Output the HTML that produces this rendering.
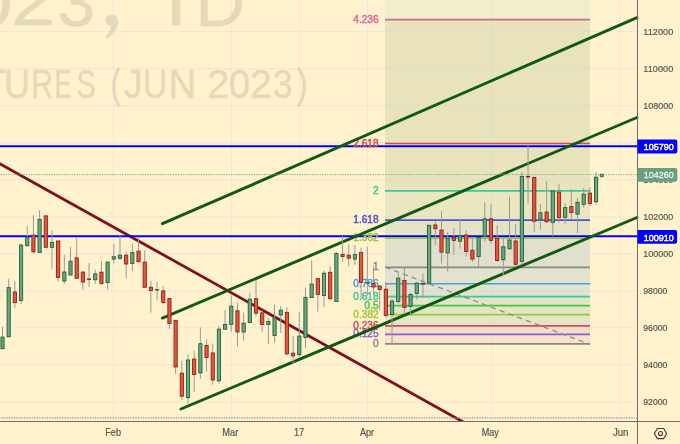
<!DOCTYPE html>
<html><head><meta charset="utf-8"><style>
html,body{margin:0;padding:0;background:#FFF2CC;}
body{width:680px;height:444px;overflow:hidden;font-family:"Liberation Sans",sans-serif;}
svg{display:block;will-change:transform}
</style></head><body>
<svg width="680" height="444" viewBox="0 0 680 444">
<defs><clipPath id="pane"><rect x="0" y="0" width="637" height="421"/></clipPath></defs>
<rect width="680" height="444" fill="#FFF2CC"/>
<text transform="translate(-30.59,25.60) scale(1.135,1.0)" font-size="68" fill="#E3DAB8" font-family="Liberation Sans, sans-serif" stroke="#E3DAB8" stroke-width="0.4">0</text>
<text transform="translate(11.03,25.30) scale(1.169,1.0)" font-size="68" fill="#E3DAB8" font-family="Liberation Sans, sans-serif" stroke="#E3DAB8" stroke-width="0.4">2</text>
<text transform="translate(57.12,26.00) scale(1.016,1.0)" font-size="68" fill="#E3DAB8" font-family="Liberation Sans, sans-serif" stroke="#E3DAB8" stroke-width="0.4">3</text>
<path d="M111.5 14.8 C115.5 14.5 118.5 17.5 118.3 22 C118 28 113 34 107.5 39 L105.3 37 C108.5 33.5 110.5 30.5 111.3 26.5 C107.5 26 105.5 23.5 105.5 20.5 C105.5 17.2 108 14.9 111.5 14.8 Z" fill="#E3DAB8"/>
<rect x="172" y="-30" width="8.4" height="55.6" fill="#E3DAB8"/>
<text transform="translate(195.32,25.60) scale(1.018,1.0)" font-size="68" fill="#E3DAB8" font-family="Liberation Sans, sans-serif" stroke="#E3DAB8" stroke-width="0.4">D</text>
<text transform="translate(-18.37,97.60) scale(0.970,1.0)" font-size="41" fill="#E3DAB8" font-family="Liberation Sans, sans-serif" stroke="#E3DAB8" stroke-width="0.5">T</text>
<text transform="translate(4.07,97.60) scale(0.885,1.0)" font-size="41" fill="#E3DAB8" font-family="Liberation Sans, sans-serif" stroke="#E3DAB8" stroke-width="0.5">U</text>
<text transform="translate(31.24,97.60) scale(0.745,1.0)" font-size="41" fill="#E3DAB8" font-family="Liberation Sans, sans-serif" stroke="#E3DAB8" stroke-width="0.5">R</text>
<text transform="translate(54.83,97.60) scale(0.617,1.0)" font-size="41" fill="#E3DAB8" font-family="Liberation Sans, sans-serif" stroke="#E3DAB8" stroke-width="0.5">E</text>
<text transform="translate(76.42,97.60) scale(0.705,1.0)" font-size="41" fill="#E3DAB8" font-family="Liberation Sans, sans-serif" stroke="#E3DAB8" stroke-width="0.5">S</text>
<text transform="translate(110.60,97.60) scale(0.748,1.0)" font-size="41" fill="#E3DAB8" font-family="Liberation Sans, sans-serif" stroke="#E3DAB8" stroke-width="0.5">(</text>
<text transform="translate(123.79,97.60) scale(0.928,1.0)" font-size="41" fill="#E3DAB8" font-family="Liberation Sans, sans-serif" stroke="#E3DAB8" stroke-width="0.5">J</text>
<text transform="translate(142.63,97.60) scale(0.835,1.0)" font-size="41" fill="#E3DAB8" font-family="Liberation Sans, sans-serif" stroke="#E3DAB8" stroke-width="0.5">U</text>
<text transform="translate(168.78,97.60) scale(0.927,1.0)" font-size="41" fill="#E3DAB8" font-family="Liberation Sans, sans-serif" stroke="#E3DAB8" stroke-width="0.5">N</text>
<text transform="translate(206.97,97.60) scale(0.990,1.0)" font-size="41" fill="#E3DAB8" font-family="Liberation Sans, sans-serif" stroke="#E3DAB8" stroke-width="0.5">2</text>
<text transform="translate(229.08,97.60) scale(0.926,1.0)" font-size="41" fill="#E3DAB8" font-family="Liberation Sans, sans-serif" stroke="#E3DAB8" stroke-width="0.5">0</text>
<text transform="translate(249.92,97.60) scale(0.968,1.0)" font-size="41" fill="#E3DAB8" font-family="Liberation Sans, sans-serif" stroke="#E3DAB8" stroke-width="0.5">2</text>
<text transform="translate(273.05,97.60) scale(0.867,1.0)" font-size="41" fill="#E3DAB8" font-family="Liberation Sans, sans-serif" stroke="#E3DAB8" stroke-width="0.5">3</text>
<text transform="translate(296.70,97.60) scale(0.804,1.0)" font-size="41" fill="#E3DAB8" font-family="Liberation Sans, sans-serif" stroke="#E3DAB8" stroke-width="0.5">)</text>
<rect x="385" y="0" width="205" height="19.63420000000002" fill="#F2EEC9"/>
<rect x="385" y="19.63" width="205" height="123.86" fill="#E9E3BC"/>
<rect x="385" y="143.49" width="205" height="47.31" fill="#E9E3BC"/>
<rect x="385" y="190.80" width="205" height="29.24" fill="#EAE6BF"/>
<rect x="385" y="220.04" width="205" height="18.07" fill="#E4E3C6"/>
<rect x="385" y="238.11" width="205" height="29.24" fill="#E2E0CA"/>
<rect x="385" y="267.35" width="205" height="16.38" fill="#E3E2CD"/>
<rect x="385" y="283.73" width="205" height="12.86" fill="#E1E3CB"/>
<rect x="385" y="296.59" width="205" height="9.03" fill="#E3E5C6"/>
<rect x="385" y="305.62" width="205" height="9.03" fill="#E3E6C3"/>
<rect x="385" y="314.66" width="205" height="11.18" fill="#E4E4C6"/>
<rect x="385" y="325.83" width="205" height="8.50" fill="#EEE0C8"/>
<rect x="385" y="334.33" width="205" height="9.57" fill="#F9E3C8"/>
<line x1="0" y1="31.50" x2="637" y2="31.50" stroke="rgba(198,205,255,0.30)" stroke-width="1.2"/>
<line x1="0" y1="68.55" x2="637" y2="68.55" stroke="rgba(198,205,255,0.30)" stroke-width="1.2"/>
<line x1="0" y1="105.60" x2="637" y2="105.60" stroke="rgba(198,205,255,0.30)" stroke-width="1.2"/>
<line x1="0" y1="142.65" x2="637" y2="142.65" stroke="rgba(198,205,255,0.30)" stroke-width="1.2"/>
<line x1="0" y1="179.70" x2="637" y2="179.70" stroke="rgba(198,205,255,0.30)" stroke-width="1.2"/>
<line x1="0" y1="216.75" x2="637" y2="216.75" stroke="rgba(198,205,255,0.30)" stroke-width="1.2"/>
<line x1="0" y1="253.80" x2="637" y2="253.80" stroke="rgba(198,205,255,0.30)" stroke-width="1.2"/>
<line x1="0" y1="290.85" x2="637" y2="290.85" stroke="rgba(198,205,255,0.30)" stroke-width="1.2"/>
<line x1="0" y1="327.90" x2="637" y2="327.90" stroke="rgba(198,205,255,0.30)" stroke-width="1.2"/>
<line x1="0" y1="364.95" x2="637" y2="364.95" stroke="rgba(198,205,255,0.30)" stroke-width="1.2"/>
<line x1="0" y1="402.00" x2="637" y2="402.00" stroke="rgba(198,205,255,0.30)" stroke-width="1.2"/>
<line x1="113.5" y1="0" x2="113.5" y2="421" stroke="rgba(198,205,255,0.30)" stroke-width="1"/>
<line x1="231.5" y1="0" x2="231.5" y2="421" stroke="rgba(198,205,255,0.30)" stroke-width="1"/>
<line x1="299.5" y1="0" x2="299.5" y2="421" stroke="rgba(198,205,255,0.30)" stroke-width="1"/>
<line x1="367.5" y1="0" x2="367.5" y2="421" stroke="rgba(198,205,255,0.30)" stroke-width="1"/>
<line x1="491.5" y1="0" x2="491.5" y2="421" stroke="rgba(198,205,255,0.30)" stroke-width="1"/>
<line x1="620.5" y1="0" x2="620.5" y2="421" stroke="rgba(198,205,255,0.30)" stroke-width="1"/>
<line x1="-2" y1="162.7" x2="470" y2="425.8" stroke="#7C1020" stroke-width="2.8" clip-path="url(#pane)"/>
<line x1="0" y1="146.2" x2="637" y2="146.2" stroke="#0000FF" stroke-width="1.85"/>
<line x1="0" y1="236.2" x2="637" y2="236.2" stroke="#0000FF" stroke-width="1.85"/>
<line x1="385" y1="19.63" x2="590" y2="19.63" stroke="#D765A0" stroke-width="1.7"/>
<text transform="translate(353.31,22.73) scale(0.930,1)" font-size="10.89" fill="#D765A0" font-family="Liberation Sans, sans-serif" stroke="#D765A0" stroke-width="0.45">4.236</text>
<line x1="385" y1="143.49" x2="590" y2="143.49" stroke="#D24A4A" stroke-width="1.7"/>
<text transform="translate(353.31,146.59) scale(0.930,1)" font-size="10.89" fill="#D24A4A" font-family="Liberation Sans, sans-serif" stroke="#D24A4A" stroke-width="0.45">2.618</text>
<line x1="385" y1="190.80" x2="590" y2="190.80" stroke="#3CC894" stroke-width="1.7"/>
<text transform="translate(373.08,193.90) scale(0.930,1)" font-size="10.89" fill="#3CC894" font-family="Liberation Sans, sans-serif" stroke="#3CC894" stroke-width="0.45">2</text>
<line x1="385" y1="220.04" x2="590" y2="220.04" stroke="#5050C8" stroke-width="1.7"/>
<text transform="translate(353.31,223.14) scale(0.930,1)" font-size="10.89" fill="#5050C8" font-family="Liberation Sans, sans-serif" stroke="#5050C8" stroke-width="0.45">1.618</text>
<line x1="385" y1="238.11" x2="590" y2="238.11" stroke="#9CC438" stroke-width="1.7"/>
<text transform="translate(353.37,241.21) scale(0.930,1)" font-size="10.89" fill="#9CC438" font-family="Liberation Sans, sans-serif" stroke="#9CC438" stroke-width="0.45">1.382</text>
<line x1="385" y1="267.35" x2="590" y2="267.35" stroke="#888888" stroke-width="1.7"/>
<text transform="translate(373.06,270.45) scale(0.930,1)" font-size="10.89" fill="#888888" font-family="Liberation Sans, sans-serif" stroke="#888888" stroke-width="0.45">1</text>
<line x1="385" y1="283.73" x2="590" y2="283.73" stroke="#4A9FDE" stroke-width="1.7"/>
<text transform="translate(353.31,286.83) scale(0.930,1)" font-size="10.89" fill="#4A9FDE" font-family="Liberation Sans, sans-serif" stroke="#4A9FDE" stroke-width="0.45">0.786</text>
<line x1="385" y1="296.59" x2="590" y2="296.59" stroke="#3CC79E" stroke-width="1.7"/>
<text transform="translate(353.31,299.69) scale(0.930,1)" font-size="10.89" fill="#3CC79E" font-family="Liberation Sans, sans-serif" stroke="#3CC79E" stroke-width="0.45">0.618</text>
<line x1="385" y1="305.62" x2="590" y2="305.62" stroke="#40C840" stroke-width="1.7"/>
<text transform="translate(364.55,308.73) scale(0.930,1)" font-size="10.89" fill="#40C840" font-family="Liberation Sans, sans-serif" stroke="#40C840" stroke-width="0.45">0.5</text>
<line x1="385" y1="314.66" x2="590" y2="314.66" stroke="#A0C838" stroke-width="1.7"/>
<text transform="translate(353.37,317.76) scale(0.930,1)" font-size="10.89" fill="#A0C838" font-family="Liberation Sans, sans-serif" stroke="#A0C838" stroke-width="0.45">0.382</text>
<line x1="385" y1="325.83" x2="590" y2="325.83" stroke="#DC4A4A" stroke-width="1.7"/>
<text transform="translate(353.31,328.93) scale(0.930,1)" font-size="10.89" fill="#DC4A4A" font-family="Liberation Sans, sans-serif" stroke="#DC4A4A" stroke-width="0.45">0.236</text>
<line x1="385" y1="334.33" x2="590" y2="334.33" stroke="#8C5ED0" stroke-width="1.7"/>
<text transform="translate(353.29,337.43) scale(0.930,1)" font-size="10.89" fill="#8C5ED0" font-family="Liberation Sans, sans-serif" stroke="#8C5ED0" stroke-width="0.45">0.125</text>
<line x1="385" y1="343.90" x2="590" y2="343.90" stroke="#888888" stroke-width="1.7"/>
<text transform="translate(372.95,347.00) scale(0.930,1)" font-size="10.89" fill="#888888" font-family="Liberation Sans, sans-serif" stroke="#888888" stroke-width="0.45">0</text>
<line x1="385.3" y1="267.2" x2="590" y2="344.4" stroke="#8C8C8C" stroke-width="1.3" stroke-dasharray="5.2 4.2"/>
<line x1="162.4" y1="223.7" x2="637" y2="17.6" stroke="#0F5A12" stroke-width="2.9" stroke-linecap="round"/>
<line x1="162.4" y1="318.1" x2="637" y2="117.5" stroke="#0F5A12" stroke-width="2.9" stroke-linecap="round"/>
<line x1="180.9" y1="409" x2="637" y2="217.5" stroke="#0F5A12" stroke-width="2.9" stroke-linecap="round"/>
<line x1="0" y1="174.6" x2="637" y2="174.6" stroke="#6FA886" stroke-width="1" stroke-dasharray="1.2 1.33" stroke-dashoffset="-0.83"/>
<line x1="0" y1="418" x2="637" y2="418" stroke="#9A9A9A" stroke-width="1.4" stroke-dasharray="1.2 1.33" stroke-dashoffset="-1.3"/>
<line x1="2.51" y1="326.8" x2="2.51" y2="348.7" stroke="#999999" stroke-width="1"/>
<rect x="0.91" y="337.10" width="3.2" height="11.60" fill="#6AA881" stroke="#225E3A" stroke-width="0.9"/>
<line x1="8.69" y1="278.8" x2="8.69" y2="336.8" stroke="#999999" stroke-width="1"/>
<rect x="7.09" y="287.60" width="3.2" height="49.20" fill="#6AA881" stroke="#225E3A" stroke-width="0.9"/>
<line x1="14.87" y1="281.0" x2="14.87" y2="307.6" stroke="#999999" stroke-width="1"/>
<rect x="13.27" y="292.00" width="3.2" height="10.60" fill="#E8553F" stroke="#8A2318" stroke-width="0.9"/>
<line x1="21.05" y1="243.4" x2="21.05" y2="304.4" stroke="#999999" stroke-width="1"/>
<rect x="19.45" y="245.10" width="3.2" height="55.30" fill="#6AA881" stroke="#225E3A" stroke-width="0.9"/>
<line x1="27.24" y1="226.1" x2="27.24" y2="246.6" stroke="#999999" stroke-width="1"/>
<rect x="25.64" y="237.30" width="3.2" height="8.40" fill="#6AA881" stroke="#225E3A" stroke-width="0.9"/>
<line x1="33.42" y1="215.2" x2="33.42" y2="253.4" stroke="#999999" stroke-width="1"/>
<rect x="31.82" y="235.10" width="3.2" height="16.70" fill="#E8553F" stroke="#8A2318" stroke-width="0.9"/>
<line x1="39.60" y1="210.2" x2="39.60" y2="252.5" stroke="#999999" stroke-width="1"/>
<rect x="38.00" y="219.40" width="3.2" height="33.00" fill="#6AA881" stroke="#225E3A" stroke-width="0.9"/>
<line x1="45.79" y1="215.9" x2="45.79" y2="247.3" stroke="#999999" stroke-width="1"/>
<rect x="44.19" y="215.90" width="3.2" height="31.40" fill="#E8553F" stroke="#8A2318" stroke-width="0.9"/>
<line x1="51.97" y1="230.4" x2="51.97" y2="268.8" stroke="#999999" stroke-width="1"/>
<rect x="50.37" y="242.40" width="3.2" height="4.90" fill="#6AA881" stroke="#225E3A" stroke-width="0.9"/>
<line x1="58.15" y1="241.0" x2="58.15" y2="281.5" stroke="#999999" stroke-width="1"/>
<rect x="56.55" y="241.00" width="3.2" height="36.40" fill="#E8553F" stroke="#8A2318" stroke-width="0.9"/>
<line x1="64.34" y1="255.0" x2="64.34" y2="283.8" stroke="#999999" stroke-width="1"/>
<rect x="62.74" y="272.00" width="3.2" height="9.00" fill="#6AA881" stroke="#225E3A" stroke-width="0.9"/>
<line x1="70.52" y1="246.8" x2="70.52" y2="275.0" stroke="#999999" stroke-width="1"/>
<rect x="68.92" y="261.20" width="3.2" height="13.80" fill="#6AA881" stroke="#225E3A" stroke-width="0.9"/>
<line x1="76.70" y1="238.0" x2="76.70" y2="279.0" stroke="#999999" stroke-width="1"/>
<rect x="75.10" y="257.90" width="3.2" height="20.40" fill="#E8553F" stroke="#8A2318" stroke-width="0.9"/>
<line x1="82.88" y1="272.0" x2="82.88" y2="289.8" stroke="#999999" stroke-width="1"/>
<rect x="81.28" y="272.00" width="3.2" height="10.00" fill="#E8553F" stroke="#8A2318" stroke-width="0.9"/>
<line x1="89.07" y1="263.1" x2="89.07" y2="287.0" stroke="#999999" stroke-width="1"/>
<rect x="87.02" y="278.55" width="4.1" height="1.40" fill="#8A2318"/>
<line x1="95.25" y1="269.7" x2="95.25" y2="283.8" stroke="#999999" stroke-width="1"/>
<rect x="93.65" y="273.90" width="3.2" height="5.80" fill="#6AA881" stroke="#225E3A" stroke-width="0.9"/>
<line x1="101.43" y1="260.9" x2="101.43" y2="285.0" stroke="#999999" stroke-width="1"/>
<rect x="99.83" y="272.20" width="3.2" height="11.20" fill="#E8553F" stroke="#8A2318" stroke-width="0.9"/>
<line x1="107.62" y1="262.1" x2="107.62" y2="289.6" stroke="#999999" stroke-width="1"/>
<rect x="106.02" y="262.10" width="3.2" height="20.50" fill="#6AA881" stroke="#225E3A" stroke-width="0.9"/>
<line x1="113.80" y1="243.8" x2="113.80" y2="263.5" stroke="#999999" stroke-width="1"/>
<rect x="112.20" y="256.80" width="3.2" height="2.30" fill="#6AA881" stroke="#225E3A" stroke-width="0.9"/>
<line x1="119.98" y1="235.0" x2="119.98" y2="260.0" stroke="#999999" stroke-width="1"/>
<rect x="118.38" y="255.20" width="3.2" height="3.00" fill="#6AA881" stroke="#225E3A" stroke-width="0.9"/>
<line x1="126.17" y1="252.0" x2="126.17" y2="278.5" stroke="#999999" stroke-width="1"/>
<rect x="124.57" y="255.20" width="3.2" height="8.80" fill="#E8553F" stroke="#8A2318" stroke-width="0.9"/>
<line x1="132.35" y1="244.0" x2="132.35" y2="271.0" stroke="#999999" stroke-width="1"/>
<rect x="130.75" y="252.60" width="3.2" height="10.90" fill="#6AA881" stroke="#225E3A" stroke-width="0.9"/>
<line x1="138.53" y1="236.7" x2="138.53" y2="261.8" stroke="#999999" stroke-width="1"/>
<rect x="136.93" y="251.20" width="3.2" height="10.60" fill="#E8553F" stroke="#8A2318" stroke-width="0.9"/>
<line x1="144.72" y1="250.3" x2="144.72" y2="287.3" stroke="#999999" stroke-width="1"/>
<rect x="143.12" y="262.10" width="3.2" height="25.20" fill="#E8553F" stroke="#8A2318" stroke-width="0.9"/>
<line x1="150.90" y1="280.8" x2="150.90" y2="312.6" stroke="#999999" stroke-width="1"/>
<rect x="149.30" y="287.30" width="3.2" height="3.20" fill="#E8553F" stroke="#8A2318" stroke-width="0.9"/>
<line x1="157.08" y1="282.0" x2="157.08" y2="299.7" stroke="#999999" stroke-width="1"/>
<rect x="155.03" y="289.10" width="4.1" height="1.40" fill="#225E3A"/>
<line x1="163.26" y1="286.1" x2="163.26" y2="304.0" stroke="#999999" stroke-width="1"/>
<rect x="161.66" y="290.90" width="3.2" height="11.60" fill="#E8553F" stroke="#8A2318" stroke-width="0.9"/>
<line x1="169.45" y1="298.5" x2="169.45" y2="328.8" stroke="#999999" stroke-width="1"/>
<rect x="167.85" y="298.50" width="3.2" height="25.00" fill="#E8553F" stroke="#8A2318" stroke-width="0.9"/>
<line x1="175.63" y1="320.4" x2="175.63" y2="373.8" stroke="#999999" stroke-width="1"/>
<rect x="174.03" y="320.40" width="3.2" height="46.60" fill="#E8553F" stroke="#8A2318" stroke-width="0.9"/>
<line x1="181.81" y1="360.9" x2="181.81" y2="400.2" stroke="#999999" stroke-width="1"/>
<rect x="180.21" y="373.20" width="3.2" height="23.00" fill="#E8553F" stroke="#8A2318" stroke-width="0.9"/>
<line x1="188.00" y1="353.8" x2="188.00" y2="404.1" stroke="#999999" stroke-width="1"/>
<rect x="186.40" y="360.00" width="3.2" height="37.60" fill="#6AA881" stroke="#225E3A" stroke-width="0.9"/>
<line x1="194.18" y1="350.8" x2="194.18" y2="391.8" stroke="#999999" stroke-width="1"/>
<rect x="192.58" y="359.10" width="3.2" height="15.40" fill="#E8553F" stroke="#8A2318" stroke-width="0.9"/>
<line x1="200.36" y1="327.4" x2="200.36" y2="379.0" stroke="#999999" stroke-width="1"/>
<rect x="198.76" y="343.70" width="3.2" height="29.20" fill="#6AA881" stroke="#225E3A" stroke-width="0.9"/>
<line x1="206.55" y1="339.3" x2="206.55" y2="371.5" stroke="#999999" stroke-width="1"/>
<rect x="204.95" y="345.50" width="3.2" height="12.00" fill="#E8553F" stroke="#8A2318" stroke-width="0.9"/>
<line x1="212.73" y1="343.5" x2="212.73" y2="384.7" stroke="#999999" stroke-width="1"/>
<rect x="211.13" y="353.00" width="3.2" height="27.00" fill="#E8553F" stroke="#8A2318" stroke-width="0.9"/>
<line x1="218.91" y1="326.2" x2="218.91" y2="383.8" stroke="#999999" stroke-width="1"/>
<rect x="217.31" y="329.20" width="3.2" height="51.60" fill="#6AA881" stroke="#225E3A" stroke-width="0.9"/>
<line x1="225.09" y1="309.6" x2="225.09" y2="329.2" stroke="#999999" stroke-width="1"/>
<rect x="223.49" y="324.40" width="3.2" height="4.80" fill="#6AA881" stroke="#225E3A" stroke-width="0.9"/>
<line x1="231.28" y1="295.3" x2="231.28" y2="331.5" stroke="#999999" stroke-width="1"/>
<rect x="229.68" y="306.20" width="3.2" height="18.20" fill="#6AA881" stroke="#225E3A" stroke-width="0.9"/>
<line x1="237.46" y1="302.7" x2="237.46" y2="346.7" stroke="#999999" stroke-width="1"/>
<rect x="235.86" y="310.80" width="3.2" height="21.20" fill="#E8553F" stroke="#8A2318" stroke-width="0.9"/>
<line x1="243.64" y1="312.6" x2="243.64" y2="340.7" stroke="#999999" stroke-width="1"/>
<rect x="242.04" y="323.20" width="3.2" height="8.80" fill="#6AA881" stroke="#225E3A" stroke-width="0.9"/>
<line x1="249.83" y1="292.6" x2="249.83" y2="322.6" stroke="#999999" stroke-width="1"/>
<rect x="248.23" y="299.20" width="3.2" height="23.40" fill="#6AA881" stroke="#225E3A" stroke-width="0.9"/>
<line x1="256.01" y1="280.2" x2="256.01" y2="316.7" stroke="#999999" stroke-width="1"/>
<rect x="254.41" y="298.70" width="3.2" height="14.50" fill="#E8553F" stroke="#8A2318" stroke-width="0.9"/>
<line x1="262.19" y1="310.2" x2="262.19" y2="332.3" stroke="#999999" stroke-width="1"/>
<rect x="260.59" y="312.90" width="3.2" height="11.60" fill="#E8553F" stroke="#8A2318" stroke-width="0.9"/>
<line x1="268.38" y1="318.0" x2="268.38" y2="344.0" stroke="#999999" stroke-width="1"/>
<rect x="266.77" y="321.50" width="3.2" height="3.00" fill="#6AA881" stroke="#225E3A" stroke-width="0.9"/>
<line x1="274.56" y1="304.4" x2="274.56" y2="342.5" stroke="#999999" stroke-width="1"/>
<rect x="272.96" y="318.00" width="3.2" height="17.50" fill="#6AA881" stroke="#225E3A" stroke-width="0.9"/>
<line x1="280.74" y1="306.2" x2="280.74" y2="333.0" stroke="#999999" stroke-width="1"/>
<rect x="279.14" y="310.20" width="3.2" height="4.80" fill="#6AA881" stroke="#225E3A" stroke-width="0.9"/>
<line x1="286.92" y1="307.0" x2="286.92" y2="355.3" stroke="#999999" stroke-width="1"/>
<rect x="285.32" y="312.40" width="3.2" height="41.50" fill="#E8553F" stroke="#8A2318" stroke-width="0.9"/>
<line x1="293.11" y1="335.9" x2="293.11" y2="363.5" stroke="#999999" stroke-width="1"/>
<rect x="291.51" y="353.20" width="3.2" height="2.70" fill="#E8553F" stroke="#8A2318" stroke-width="0.9"/>
<line x1="299.29" y1="312.4" x2="299.29" y2="356.5" stroke="#999999" stroke-width="1"/>
<rect x="297.69" y="336.10" width="3.2" height="18.60" fill="#6AA881" stroke="#225E3A" stroke-width="0.9"/>
<line x1="305.47" y1="287.6" x2="305.47" y2="348.2" stroke="#999999" stroke-width="1"/>
<rect x="303.87" y="297.40" width="3.2" height="40.20" fill="#6AA881" stroke="#225E3A" stroke-width="0.9"/>
<line x1="311.66" y1="260.2" x2="311.66" y2="297.5" stroke="#999999" stroke-width="1"/>
<rect x="310.06" y="284.10" width="3.2" height="13.40" fill="#6AA881" stroke="#225E3A" stroke-width="0.9"/>
<line x1="317.84" y1="278.6" x2="317.84" y2="311.5" stroke="#999999" stroke-width="1"/>
<rect x="316.24" y="278.60" width="3.2" height="15.80" fill="#E8553F" stroke="#8A2318" stroke-width="0.9"/>
<line x1="324.02" y1="270.6" x2="324.02" y2="307.4" stroke="#999999" stroke-width="1"/>
<rect x="322.42" y="273.20" width="3.2" height="22.30" fill="#6AA881" stroke="#225E3A" stroke-width="0.9"/>
<line x1="330.20" y1="266.2" x2="330.20" y2="300.4" stroke="#999999" stroke-width="1"/>
<rect x="328.60" y="272.30" width="3.2" height="26.40" fill="#E8553F" stroke="#8A2318" stroke-width="0.9"/>
<line x1="336.39" y1="252.0" x2="336.39" y2="301.5" stroke="#999999" stroke-width="1"/>
<rect x="334.79" y="253.50" width="3.2" height="48.00" fill="#6AA881" stroke="#225E3A" stroke-width="0.9"/>
<line x1="342.57" y1="236.2" x2="342.57" y2="261.8" stroke="#999999" stroke-width="1"/>
<rect x="340.97" y="254.40" width="3.2" height="2.10" fill="#E8553F" stroke="#8A2318" stroke-width="0.9"/>
<line x1="348.75" y1="244.1" x2="348.75" y2="266.2" stroke="#999999" stroke-width="1"/>
<rect x="347.15" y="255.20" width="3.2" height="3.00" fill="#E8553F" stroke="#8A2318" stroke-width="0.9"/>
<line x1="354.94" y1="245.0" x2="354.94" y2="264.9" stroke="#999999" stroke-width="1"/>
<rect x="353.34" y="254.40" width="3.2" height="4.70" fill="#6AA881" stroke="#225E3A" stroke-width="0.9"/>
<line x1="361.12" y1="247.6" x2="361.12" y2="298.9" stroke="#999999" stroke-width="1"/>
<rect x="359.52" y="252.60" width="3.2" height="29.90" fill="#E8553F" stroke="#8A2318" stroke-width="0.9"/>
<line x1="367.30" y1="246.8" x2="367.30" y2="295.9" stroke="#999999" stroke-width="1"/>
<rect x="365.25" y="282.25" width="4.1" height="1.40" fill="#225E3A"/>
<line x1="373.49" y1="266.2" x2="373.49" y2="295.3" stroke="#999999" stroke-width="1"/>
<rect x="371.89" y="283.40" width="3.2" height="3.60" fill="#E8553F" stroke="#8A2318" stroke-width="0.9"/>
<line x1="379.67" y1="285.6" x2="379.67" y2="310.0" stroke="#999999" stroke-width="1"/>
<rect x="378.07" y="286.00" width="3.2" height="3.50" fill="#E8553F" stroke="#8A2318" stroke-width="0.9"/>
<line x1="385.85" y1="281.9" x2="385.85" y2="317.6" stroke="#999999" stroke-width="1"/>
<rect x="384.25" y="289.20" width="3.2" height="26.10" fill="#E8553F" stroke="#8A2318" stroke-width="0.9"/>
<line x1="392.04" y1="299.4" x2="392.04" y2="343.7" stroke="#999999" stroke-width="1"/>
<rect x="390.44" y="301.10" width="3.2" height="13.30" fill="#6AA881" stroke="#225E3A" stroke-width="0.9"/>
<line x1="398.22" y1="273.2" x2="398.22" y2="303.5" stroke="#999999" stroke-width="1"/>
<rect x="396.62" y="278.10" width="3.2" height="23.40" fill="#6AA881" stroke="#225E3A" stroke-width="0.9"/>
<line x1="404.40" y1="267.4" x2="404.40" y2="314.1" stroke="#999999" stroke-width="1"/>
<rect x="402.80" y="280.40" width="3.2" height="27.00" fill="#E8553F" stroke="#8A2318" stroke-width="0.9"/>
<line x1="410.58" y1="292.8" x2="410.58" y2="315.3" stroke="#999999" stroke-width="1"/>
<rect x="408.98" y="294.50" width="3.2" height="11.90" fill="#6AA881" stroke="#225E3A" stroke-width="0.9"/>
<line x1="416.77" y1="281.7" x2="416.77" y2="299.5" stroke="#999999" stroke-width="1"/>
<rect x="415.17" y="283.20" width="3.2" height="10.20" fill="#6AA881" stroke="#225E3A" stroke-width="0.9"/>
<line x1="422.95" y1="273.3" x2="422.95" y2="298.0" stroke="#999999" stroke-width="1"/>
<rect x="420.90" y="283.10" width="4.1" height="1.50" fill="#8A2318"/>
<line x1="429.13" y1="225.3" x2="429.13" y2="283.5" stroke="#999999" stroke-width="1"/>
<rect x="427.53" y="225.30" width="3.2" height="57.60" fill="#6AA881" stroke="#225E3A" stroke-width="0.9"/>
<line x1="435.32" y1="221.3" x2="435.32" y2="244.9" stroke="#999999" stroke-width="1"/>
<rect x="433.72" y="225.00" width="3.2" height="3.70" fill="#E8553F" stroke="#8A2318" stroke-width="0.9"/>
<line x1="441.50" y1="211.1" x2="441.50" y2="263.3" stroke="#999999" stroke-width="1"/>
<rect x="439.90" y="230.10" width="3.2" height="22.00" fill="#E8553F" stroke="#8A2318" stroke-width="0.9"/>
<line x1="447.68" y1="232.0" x2="447.68" y2="271.6" stroke="#999999" stroke-width="1"/>
<rect x="446.08" y="238.10" width="3.2" height="14.80" fill="#6AA881" stroke="#225E3A" stroke-width="0.9"/>
<line x1="453.87" y1="227.9" x2="453.87" y2="254.6" stroke="#999999" stroke-width="1"/>
<rect x="452.26" y="237.50" width="3.2" height="2.90" fill="#E8553F" stroke="#8A2318" stroke-width="0.9"/>
<line x1="460.05" y1="219.2" x2="460.05" y2="248.7" stroke="#999999" stroke-width="1"/>
<rect x="458.45" y="235.80" width="3.2" height="5.40" fill="#6AA881" stroke="#225E3A" stroke-width="0.9"/>
<line x1="466.23" y1="230.3" x2="466.23" y2="256.5" stroke="#999999" stroke-width="1"/>
<rect x="464.63" y="235.00" width="3.2" height="16.50" fill="#E8553F" stroke="#8A2318" stroke-width="0.9"/>
<line x1="472.41" y1="238.2" x2="472.41" y2="261.8" stroke="#999999" stroke-width="1"/>
<rect x="470.81" y="250.30" width="3.2" height="8.80" fill="#E8553F" stroke="#8A2318" stroke-width="0.9"/>
<line x1="478.60" y1="237.0" x2="478.60" y2="268.2" stroke="#999999" stroke-width="1"/>
<rect x="477.00" y="237.30" width="3.2" height="19.20" fill="#6AA881" stroke="#225E3A" stroke-width="0.9"/>
<line x1="484.78" y1="202.3" x2="484.78" y2="241.5" stroke="#999999" stroke-width="1"/>
<rect x="483.18" y="218.80" width="3.2" height="17.40" fill="#6AA881" stroke="#225E3A" stroke-width="0.9"/>
<line x1="490.96" y1="204.1" x2="490.96" y2="244.1" stroke="#999999" stroke-width="1"/>
<rect x="489.36" y="218.80" width="3.2" height="21.60" fill="#E8553F" stroke="#8A2318" stroke-width="0.9"/>
<line x1="497.15" y1="225.3" x2="497.15" y2="261.8" stroke="#999999" stroke-width="1"/>
<rect x="495.55" y="238.20" width="3.2" height="22.30" fill="#E8553F" stroke="#8A2318" stroke-width="0.9"/>
<line x1="503.33" y1="237.5" x2="503.33" y2="275.6" stroke="#999999" stroke-width="1"/>
<rect x="501.73" y="246.80" width="3.2" height="13.00" fill="#6AA881" stroke="#225E3A" stroke-width="0.9"/>
<line x1="509.51" y1="196.7" x2="509.51" y2="248.8" stroke="#999999" stroke-width="1"/>
<rect x="507.91" y="240.00" width="3.2" height="8.80" fill="#6AA881" stroke="#225E3A" stroke-width="0.9"/>
<line x1="515.69" y1="224.0" x2="515.69" y2="266.8" stroke="#999999" stroke-width="1"/>
<rect x="514.09" y="241.00" width="3.2" height="23.30" fill="#E8553F" stroke="#8A2318" stroke-width="0.9"/>
<line x1="521.88" y1="172.0" x2="521.88" y2="264.6" stroke="#999999" stroke-width="1"/>
<rect x="520.28" y="176.40" width="3.2" height="84.90" fill="#6AA881" stroke="#225E3A" stroke-width="0.9"/>
<line x1="528.06" y1="145.7" x2="528.06" y2="203.2" stroke="#999999" stroke-width="1"/>
<rect x="526.01" y="175.90" width="4.1" height="1.60" fill="#8A2318"/>
<line x1="534.24" y1="177.5" x2="534.24" y2="231.9" stroke="#999999" stroke-width="1"/>
<rect x="532.64" y="177.50" width="3.2" height="43.70" fill="#E8553F" stroke="#8A2318" stroke-width="0.9"/>
<line x1="540.43" y1="204.1" x2="540.43" y2="229.3" stroke="#999999" stroke-width="1"/>
<rect x="538.83" y="212.80" width="3.2" height="6.50" fill="#6AA881" stroke="#225E3A" stroke-width="0.9"/>
<line x1="546.61" y1="181.2" x2="546.61" y2="223.3" stroke="#999999" stroke-width="1"/>
<rect x="545.01" y="212.00" width="3.2" height="9.70" fill="#E8553F" stroke="#8A2318" stroke-width="0.9"/>
<line x1="552.79" y1="190.1" x2="552.79" y2="236.2" stroke="#999999" stroke-width="1"/>
<rect x="551.19" y="191.00" width="3.2" height="31.50" fill="#6AA881" stroke="#225E3A" stroke-width="0.9"/>
<line x1="558.98" y1="183.7" x2="558.98" y2="222.5" stroke="#999999" stroke-width="1"/>
<rect x="557.38" y="192.10" width="3.2" height="25.50" fill="#E8553F" stroke="#8A2318" stroke-width="0.9"/>
<line x1="565.16" y1="203.1" x2="565.16" y2="224.1" stroke="#999999" stroke-width="1"/>
<rect x="563.56" y="207.60" width="3.2" height="9.70" fill="#6AA881" stroke="#225E3A" stroke-width="0.9"/>
<line x1="571.34" y1="188.9" x2="571.34" y2="219.6" stroke="#999999" stroke-width="1"/>
<rect x="569.74" y="206.60" width="3.2" height="5.90" fill="#E8553F" stroke="#8A2318" stroke-width="0.9"/>
<line x1="577.52" y1="198.0" x2="577.52" y2="233.0" stroke="#999999" stroke-width="1"/>
<rect x="575.92" y="202.30" width="3.2" height="11.80" fill="#6AA881" stroke="#225E3A" stroke-width="0.9"/>
<line x1="583.71" y1="188.2" x2="583.71" y2="207.6" stroke="#999999" stroke-width="1"/>
<rect x="582.11" y="194.20" width="3.2" height="10.10" fill="#6AA881" stroke="#225E3A" stroke-width="0.9"/>
<line x1="589.89" y1="187.2" x2="589.89" y2="206.3" stroke="#999999" stroke-width="1"/>
<rect x="588.29" y="193.10" width="3.2" height="10.30" fill="#E8553F" stroke="#8A2318" stroke-width="0.9"/>
<line x1="596.07" y1="172.0" x2="596.07" y2="204.7" stroke="#999999" stroke-width="1"/>
<rect x="594.47" y="177.20" width="3.2" height="24.60" fill="#6AA881" stroke="#225E3A" stroke-width="0.9"/>
<rect x="600" y="174.2" width="3.6" height="2.6" rx="1" fill="#6AA881" stroke="#225E3A" stroke-width="0.9"/>
<line x1="637.5" y1="0" x2="637.5" y2="444" stroke="#6E6E6E" stroke-width="1"/>
<line x1="0" y1="421.5" x2="680" y2="421.5" stroke="#6E6E6E" stroke-width="1"/>
<text transform="translate(643.30,34.90) scale(0.929,1)" font-size="9.89" fill="#555555" font-family="Liberation Sans, sans-serif" stroke="#555555" stroke-width="0.2">112000</text>
<text transform="translate(643.30,71.90) scale(0.929,1)" font-size="9.89" fill="#555555" font-family="Liberation Sans, sans-serif" stroke="#555555" stroke-width="0.2">110000</text>
<text transform="translate(643.32,108.90) scale(0.907,1)" font-size="9.89" fill="#555555" font-family="Liberation Sans, sans-serif" stroke="#555555" stroke-width="0.2">108000</text>
<text transform="translate(643.32,145.90) scale(0.907,1)" font-size="9.89" fill="#555555" font-family="Liberation Sans, sans-serif" stroke="#555555" stroke-width="0.2">106000</text>
<text transform="translate(643.32,182.90) scale(0.907,1)" font-size="9.89" fill="#555555" font-family="Liberation Sans, sans-serif" stroke="#555555" stroke-width="0.2">104000</text>
<text transform="translate(643.32,219.90) scale(0.907,1)" font-size="9.89" fill="#555555" font-family="Liberation Sans, sans-serif" stroke="#555555" stroke-width="0.2">102000</text>
<text transform="translate(643.32,256.90) scale(0.907,1)" font-size="9.89" fill="#555555" font-family="Liberation Sans, sans-serif" stroke="#555555" stroke-width="0.2">100000</text>
<text transform="translate(643.20,293.90) scale(0.882,1)" font-size="9.89" fill="#555555" font-family="Liberation Sans, sans-serif" stroke="#555555" stroke-width="0.2">98000</text>
<text transform="translate(643.20,330.90) scale(0.882,1)" font-size="9.89" fill="#555555" font-family="Liberation Sans, sans-serif" stroke="#555555" stroke-width="0.2">96000</text>
<text transform="translate(643.20,367.90) scale(0.882,1)" font-size="9.89" fill="#555555" font-family="Liberation Sans, sans-serif" stroke="#555555" stroke-width="0.2">94000</text>
<text transform="translate(643.20,404.90) scale(0.882,1)" font-size="9.89" fill="#555555" font-family="Liberation Sans, sans-serif" stroke="#555555" stroke-width="0.2">92000</text>
<path d="M637.5 139.6 H675.3 Q677.3 139.6 677.3 141.6 V151.5 Q677.3 153.5 675.3 153.5 H637.5 Z" fill="#0000FF"/>
<text transform="translate(643.82,150.00) scale(0.907,1)" font-size="9.89" fill="#FFFFFF" font-family="Liberation Sans, sans-serif" stroke="#FFFFFF" stroke-width="0.5">105790</text>
<path d="M637.5 229.9 H675.1 Q677.1 229.9 677.1 231.9 V241.8 Q677.1 243.8 675.1 243.8 H637.5 Z" fill="#0000FF"/>
<text transform="translate(643.72,240.50) scale(0.907,1)" font-size="9.89" fill="#FFFFFF" font-family="Liberation Sans, sans-serif" stroke="#FFFFFF" stroke-width="0.5">100910</text>
<path d="M637.5 168 H675.3 Q677.3 168 677.3 170 V179.8 Q677.3 181.8 675.3 181.8 H637.5 Z" fill="#6A9E80"/>
<text transform="translate(643.82,178.20) scale(0.907,1)" font-size="9.89" fill="#F4F4EC" font-family="Liberation Sans, sans-serif" stroke="#F4F4EC" stroke-width="0.3">104260</text>
<text transform="translate(105.20,435.60) scale(0.893,1)" font-size="10.32" fill="#555555" font-family="Liberation Sans, sans-serif" stroke="#555555" stroke-width="0.2">Feb</text>
<text transform="translate(222.34,435.60) scale(0.895,1)" font-size="10.32" fill="#555555" font-family="Liberation Sans, sans-serif" stroke="#555555" stroke-width="0.2">Mar</text>
<text transform="translate(293.90,435.60) scale(0.894,1)" font-size="10.32" fill="#555555" font-family="Liberation Sans, sans-serif" stroke="#555555" stroke-width="0.2">17</text>
<text transform="translate(359.88,435.60) scale(0.888,1)" font-size="10.32" fill="#555555" font-family="Liberation Sans, sans-serif" stroke="#555555" stroke-width="0.2">Apr</text>
<text transform="translate(481.66,435.60) scale(0.875,1)" font-size="10.32" fill="#555555" font-family="Liberation Sans, sans-serif" stroke="#555555" stroke-width="0.2">May</text>
<text transform="translate(612.95,435.60) scale(0.930,1)" font-size="10.32" fill="#555555" font-family="Liberation Sans, sans-serif" stroke="#555555" stroke-width="0.2">Jun</text>
<path d="M654.4 433.5 L657.4 428.5 H663.7 L666.6 433.5 L663.7 438.6 H657.4 Z" fill="none" stroke="#3A3A3A" stroke-width="1.1" stroke-linejoin="round"/>
<circle cx="660.5" cy="433.5" r="2" fill="none" stroke="#3A3A3A" stroke-width="1.1"/>
</svg>
</body></html>
